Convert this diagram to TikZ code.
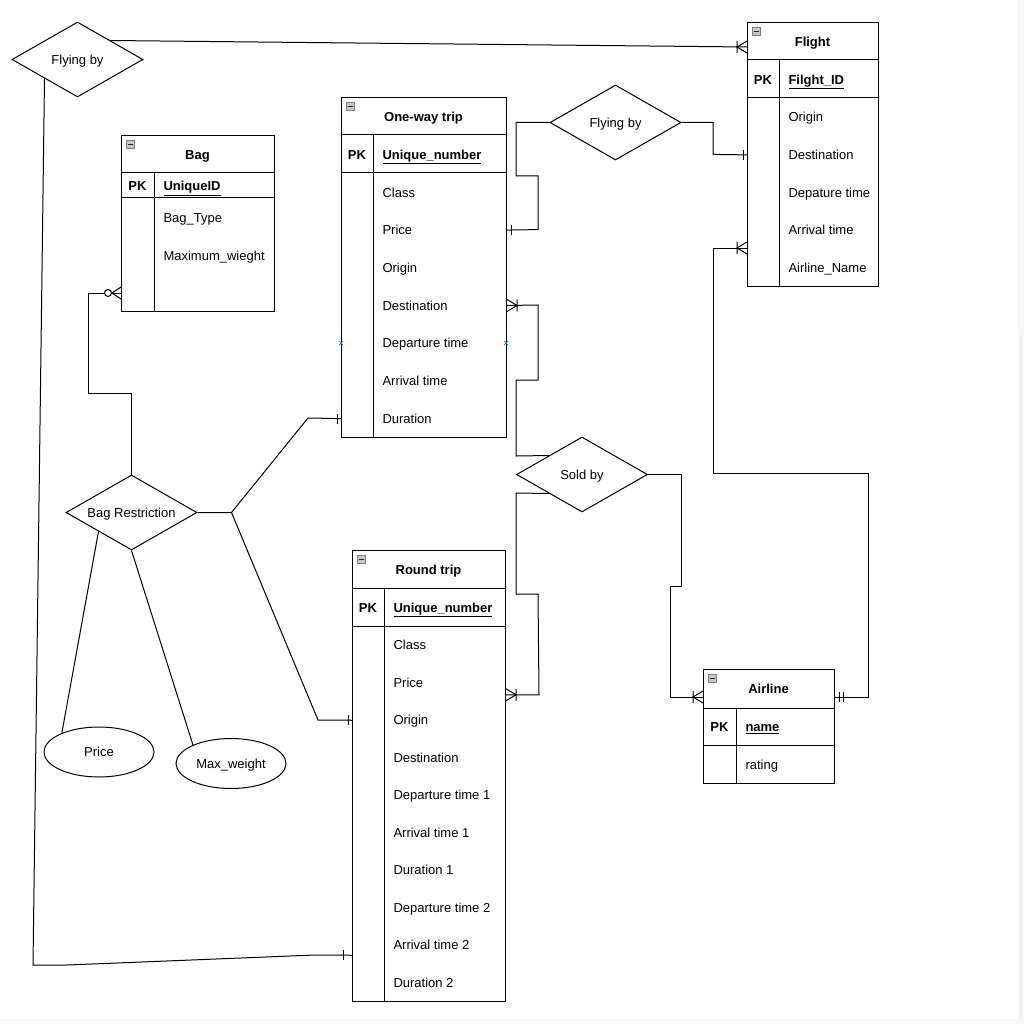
\documentclass[tikz,border=0pt]{standalone}
\usepackage{fontspec}
\setmainfont{Liberation Sans}
\usetikzlibrary{shapes.geometric,calc}
\begin{document}
\begin{tikzpicture}[x=1pt,y=-1pt,line width=1pt,
  every node/.style={font=\fontsize{13}{15}\selectfont, text height=9.4pt, text depth=0pt},
  tbl/.style={draw, anchor=north west, inner sep=0pt, line width=1pt},
  ttl/.style={font=\fontsize{13}{15}\selectfont\bfseries, inner sep=0pt},
  pkl/.style={font=\fontsize{13}{15}\selectfont\bfseries, inner sep=0pt},
  keyl/.style={anchor=west, font=\fontsize{13}{15}\selectfont\bfseries, inner sep=0pt},
  attr/.style={anchor=west, inner sep=0pt},
  rel/.style={draw, shape=diamond, shape aspect=1.75, minimum width=131pt, minimum height=75pt, inner sep=0pt},
  atrib/.style={draw, ellipse, minimum width=110pt, minimum height=50pt, inner sep=0pt},
  onemany/.pic={\draw (0,-6) -- (10,0) -- (0,6) (10,-6) -- (10,6);},
  zeromany/.pic={\draw (0,-6) -- (9,0) -- (0,6); \draw[fill=white] (13,0) circle (3.5);},
  onebar/.pic={\draw (4,-5) -- (4,5);},
  twobar/.pic={\draw (4,-5) -- (4,5) (8,-5) -- (8,5);},
  minus/.pic={\draw[fill=black!22, draw=black!50, line width=0.5pt] (5,5) rectangle (13,13);
              \draw[black!85, line width=0.9pt] (6.5,9) -- (11.5,9);},
  bluex/.style={draw=cyan!70!blue, line width=0.7pt}
]
\useasboundingbox (0,0) rectangle (1024,1024);
\fill[white] (0,0) rectangle (1024,1024);
\fill[black!3] (1018,0) rectangle (1024,1024);
\fill[black!3] (0,1019) rectangle (1024,1024);
\fill[black!7] (1020,335) rectangle (1022,1019);

% ---------- Bag ----------
\node[tbl, minimum width=153pt, minimum height=176pt] (bag) at (121,135) {};
\draw (121,173) -- (274,173) (121,198) -- (274,198) (154,173) -- (154,311);
\pic at (121,135) {minus};
\node[ttl] (bagT) at (197.5,155) {Bag};
\node[pkl] (bagPK) at (137.5,186) {PK};
\node[keyl] (bagK) at (163,186) {\underline{UniqueID}};
\node[attr] (bag-1) at (163,217.5) {Bag\_Type};
\node[attr] (bag-2) at (163,255.5) {Maximum\_wieght};

% ---------- One-way trip ----------
\node[tbl, minimum width=165pt, minimum height=340pt] (ow) at (341,97) {};
\draw (341,135) -- (506,135) (341,173) -- (506,173) (373,135) -- (373,437);
\pic at (341,97) {minus};
\node[ttl] (owT) at (423.5,116.5) {One-way trip};
\node[pkl] (owPK) at (357,154.5) {PK};
\node[keyl] (owK) at (382,154.5) {\underline{Unique\_number}};
\foreach \t [count=\i] in {Class,Price,Origin,Destination,Departure time,Arrival time,Duration}
  \node[attr] (ow-\i) at (382,{173.5+37.71*(\i-0.5)}) {\t};

% ---------- Flight ----------
\node[tbl, minimum width=131pt, minimum height=264pt] (fl) at (747,22) {};
\draw (747,60) -- (878,60) (747,98) -- (878,98) (779,60) -- (779,286);
\pic at (747,22) {minus};
\node[ttl] (flT) at (812.5,41.5) {Flight};
\node[pkl] (flPK) at (763,79.5) {PK};
\node[keyl] (flK) at (788,79.5) {\underline{Filght\_ID}};
\foreach \t [count=\i] in {Origin,Destination,Depature time,Arrival time,Airline\_Name}
  \node[attr] (fl-\i) at (788,{98.5+37.6*(\i-0.5)}) {\t};

% ---------- Round trip ----------
\node[tbl, minimum width=153pt, minimum height=451pt] (rt) at (352,550) {};
\draw (352,588) -- (505,588) (352,626) -- (505,626) (384,588) -- (384,1001);
\pic at (352,550) {minus};
\node[ttl] (rtT) at (428.5,569.5) {Round trip};
\node[pkl] (rtPK) at (368,607.5) {PK};
\node[keyl] (rtK) at (393,607.5) {\underline{Unique\_number}};
\foreach \t [count=\i] in {Class,Price,Origin,Destination,Departure time 1,Arrival time 1,Duration 1,Departure time 2,Arrival time 2,Duration 2}
  \node[attr] (rt-\i) at (393,{626.5+37.5*(\i-0.5)}) {\t};

% ---------- Airline ----------
\node[tbl, minimum width=131pt, minimum height=114pt] (al) at (703,669) {};
\draw (703,708) -- (834,708) (703,745) -- (834,745) (736,708) -- (736,783);
\pic at (703,669) {minus};
\node[ttl] (alT) at (768.5,689) {Airline};
\node[pkl] (alPK) at (719.5,727) {PK};
\node[keyl] (alK) at (745,727) {\underline{name}};
\node[attr] (al-1) at (745,764.5) {rating};

% ---------- Relationships / attributes ----------
\node[rel] (fb1) at (77.5,59.5) {Flying by};
\node[rel] (fb2) at (615.5,122.5) {Flying by};
\node[rel] (sb) at (582,474.5) {Sold by};
\node[rel] (br) at (131.5,512.5) {Bag Restriction};
\node[atrib] (price) at (99,752) {Price};
\node[atrib] (maxw) at (231,763.5) {Max\_weight};

% ---------- connection points ----------
\coordinate (flA) at ($(fl.north west)+(0,25)$);
\coordinate (flC) at ($(fl.north west)+(0,226)$);
\coordinate (flD) at (fl.west |- fl-2);
\coordinate (owP) at (ow.east |- ow-2);
\coordinate (owDest) at (ow.east |- ow-4);
\coordinate (owDur) at (ow.west |- ow-7);
\coordinate (rtP) at ($(rt.east |- rt-2)+(0,12)$);
\coordinate (rtO) at (rt.west |- rt-3);
\coordinate (rtB) at ($(rt.west |- rt-9)+(0,10)$);
\coordinate (alW) at ($(al.north west)+(0,28)$);
\coordinate (alE) at ($(al.north east)+(0,28)$);
\coordinate (bagZ) at ($(bag.north west)+(0,158)$);
\coordinate (brJ) at ($(br.east)+(34,0)$);

% ---------- connectors ----------
\draw (fb1.north east) -- (flA);
\pic[rotate=180] at (flA) {onemany};

\draw (fb1.south west) -- (33,965) -- (67,965) -- (315,955) -- (rtB);
\pic[rotate=180] at ($(rtB)+(-5,0)$) {onebar};

\draw (fb2.west) -- (516,122.5) -- (516,176) -- (538,176) -- (538,229.6) -- (owP);
\pic at (owP) {onebar};
\draw (fb2.east) -- (713,122.5) -- (713,154.4) -- (flD);
\pic[rotate=180] at (flD) {onebar};

\draw (alE) -- (868,697) -- (868,473) -- (713,473) -- (713,248) -- (flC);
\pic at (alE) {twobar};
\pic[rotate=180] at (flC) {onemany};

\draw (owDest) -- (538,305) -- (538,380) -- (516,380) -- (516,456) -- (sb.north west);
\pic at (owDest) {onemany};
\draw (rtP) -- ++(33,0) -- (538,594) -- (516,594) -- (516,493) -- (sb.south west);
\pic at (rtP) {onemany};
\draw (sb.east) -- (681,474.5) -- (681,586) -- (670,586) -- (670,697) -- (alW);
\pic[rotate=180] at (alW) {onemany};

\draw (br.north) -- (131.5,393) -- (88,393) -- (88,293) -- (bagZ);
\pic[rotate=180] at (bagZ) {zeromany};
\draw (br.east) -- (brJ) -- (308,418) -- (owDur);
\pic[rotate=180] at (owDur) {onebar};
\draw (brJ) -- (318,720) -- (rtO);
\pic[rotate=180] at (rtO) {onebar};
\draw (br.south west) -- (price.153);
\draw (br.south) -- (maxw.154);

% ---------- small blue markers ----------
\draw[bluex] (339,341) -- (343,345) (339,345) -- (343,341);
\draw[bluex] (504,341) -- (508,345) (504,345) -- (508,341);
\end{tikzpicture}
\end{document}
